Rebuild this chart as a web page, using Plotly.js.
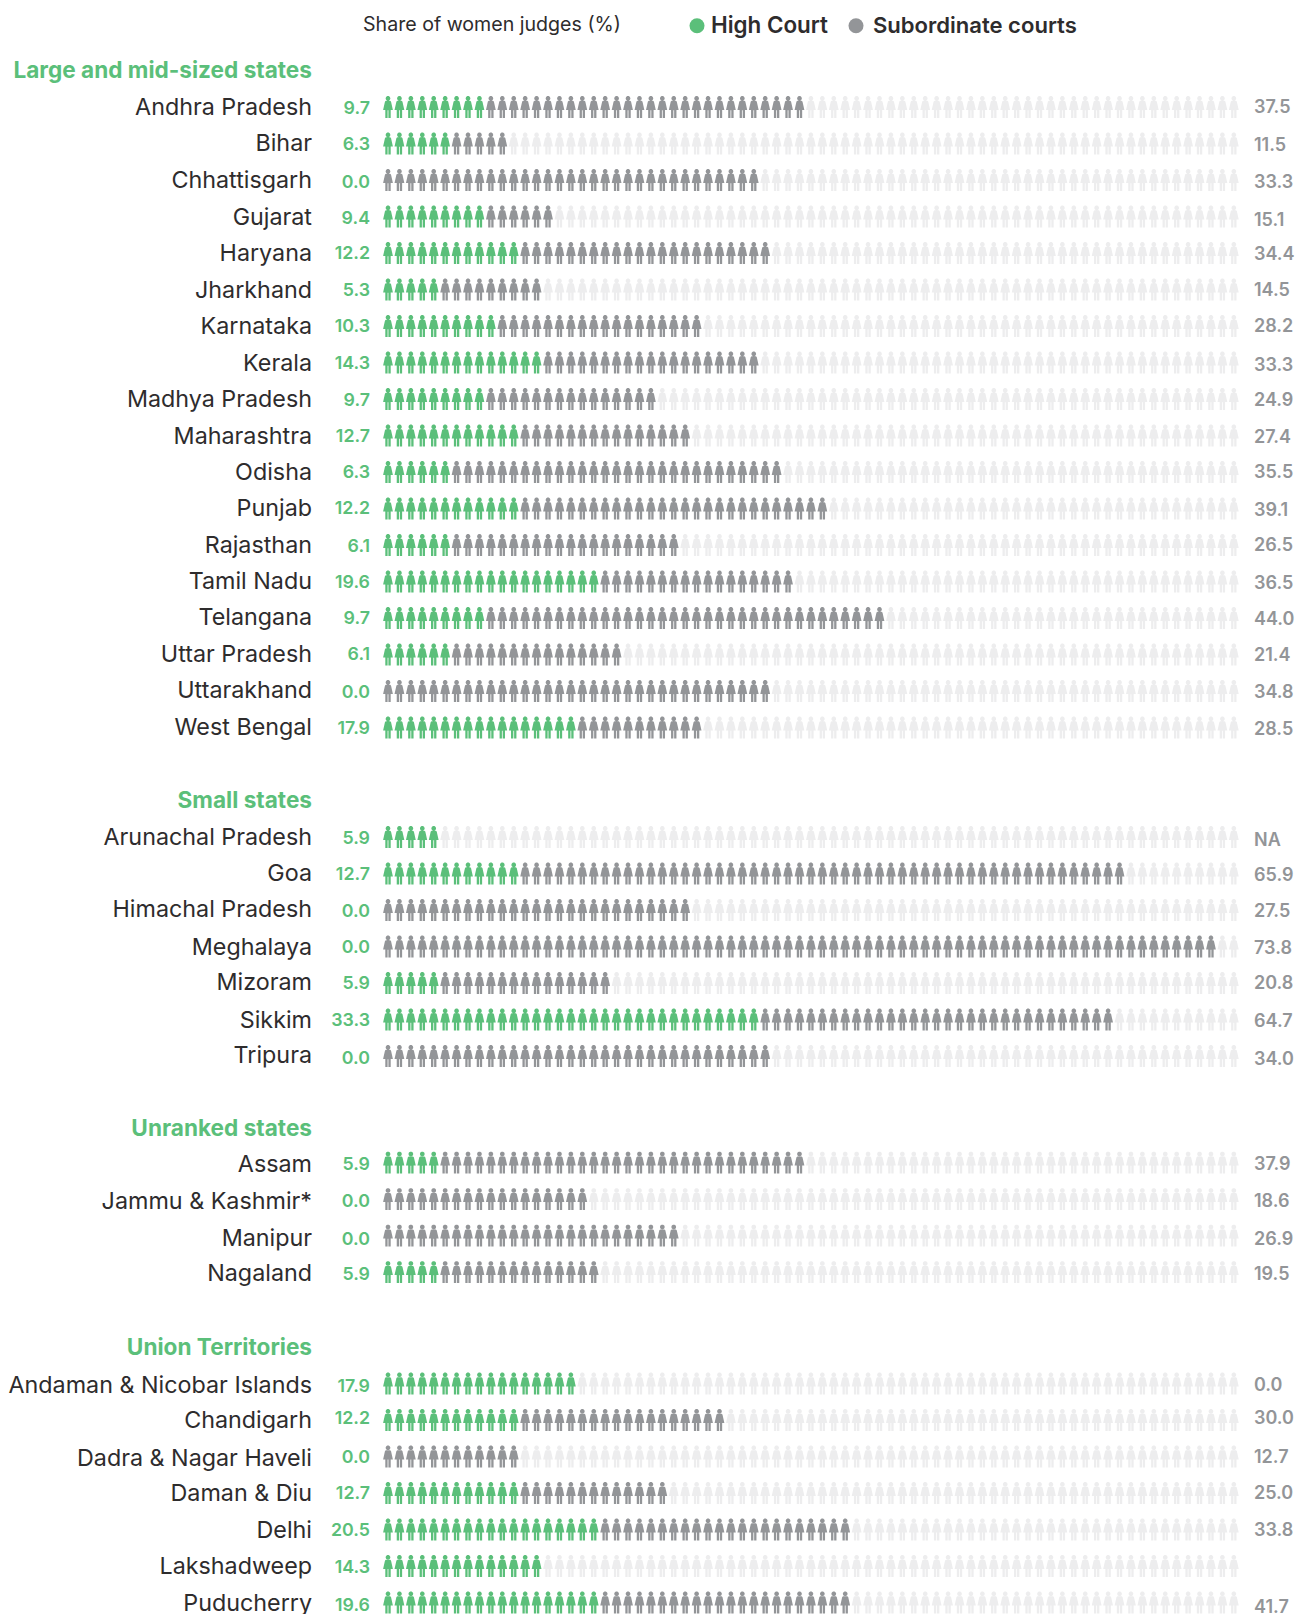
<!DOCTYPE html>
<html><head><meta charset="utf-8">
<script src="https://cdn.plot.ly/plotly-3.0.1.min.js"></script>
<style>html,body{margin:0;padding:0;background:#fff;overflow:hidden}</style>
</head><body><div id="chart" style="width:1298px;height:1614px"></div>
<script>
const groupNames = ["Large and mid-sized states","Small states","Unranked states","Union Territories"];
const groupSizes = [18,7,4,7];
const states = ["Andhra Pradesh","Bihar","Chhattisgarh","Gujarat","Haryana","Jharkhand","Karnataka","Kerala","Madhya Pradesh","Maharashtra","Odisha","Punjab","Rajasthan","Tamil Nadu","Telangana","Uttar Pradesh","Uttarakhand","West Bengal",
"Arunachal Pradesh","Goa","Himachal Pradesh","Meghalaya","Mizoram","Sikkim","Tripura",
"Assam","Jammu & Kashmir*","Manipur","Nagaland",
"Andaman & Nicobar Islands","Chandigarh","Dadra & Nagar Haveli","Daman & Diu","Delhi","Lakshadweep","Puducherry"];
const highCourt = ["9.7","6.3","0.0","9.4","12.2","5.3","10.3","14.3","9.7","12.7","6.3","12.2","6.1","19.6","9.7","6.1","0.0","17.9",
"5.9","12.7","0.0","0.0","5.9","33.3","0.0",
"5.9","0.0","0.0","5.9",
"17.9","12.2","0.0","12.7","20.5","14.3","19.6"];
const subordinate = ["37.5","11.5","33.3","15.1","34.4","14.5","28.2","33.3","24.9","27.4","35.5","39.1","26.5","36.5","44.0","21.4","34.8","28.5",
"NA","65.9","27.5","73.8","20.8","64.7","34.0",
"37.9","18.6","26.9","19.5",
"0.0","30.0","12.7","25.0","33.8","","41.7"];
const greenIcons = [9,6,0,9,12,5,10,14,9,12,6,12,6,19,9,6,0,17, 5,12,0,0,5,33,0, 5,0,0,5, 17,12,0,12,19,14,19];
const grayEnd    = [37,11,33,15,34,14,28,33,24,27,35,39,26,36,44,21,34,28, 5,65,27,73,20,64,34, 37,18,26,19, 17,30,12,25,41,14,41];
const totalIcons = 75;

// layout constants
const PITCH = 11.43, RH = 36.5, X0 = 388, Y0 = 107, W = 1298, H = 1614;
const groupStart = [0,20,28.92,34.97];
const headerNudge = [2,2,5,3];
const stateNudge = [4,3.5,4,4,4,4,4,4,4,4,4,3,4,3,3,3,3,3, 4,3,3,4,3,4,3, 5.5,6,6,5, 5,4,5,4,4,4,4];
const hcNudge = [4,4,5,5,3.5,4,3.5,4,4.5,4,3.5,3,4,3.5,3.5,3,4,4, 4,4,4,4,3,4,5, 4,5,6,5, 5.5,1,4,3,4,4,6];
const subNudge = [3,4,5,6,4,3,3,5,4,4,3,4,3,4,4,3,4,4, 6,4,4,4,3,4,6, 4,5,6,5, 5,1,4,3,4,0,7];
const GREEN = "#5BBF7A", GRAY = "#939598", LIGHT = "#EDEDEE", DARK = "#2E2C2D";
const FONT = "Inter, 'Open Sans', sans-serif";

const slots = []; const headers = [];
groupSizes.forEach((n,g)=>{ headers.push(groupStart[g]-1.0); for(let i=0;i<n;i++) slots.push(groupStart[g]+i); });

// person glyph outline, in px about its centre
const body = [[-2.1,-6.2],[2.1,-6.2],[3,-5.4],[4.9,3],[2.7,3],[2.7,11],[.4,11],[.4,3.2],[-.4,3.2],[-.4,11],[-2.7,11],[-2.7,3],[-4.9,3],[-3,-5.4]];
const head = []; for(let a=0;a<10;a++){ head.push([2.4*Math.cos(a*Math.PI/5), -8.6+2.4*Math.sin(a*Math.PI/5)]); }
function addPerson(t,i,s){
  [body,head].forEach(poly=>{
    poly.forEach(p=>{ t.x.push(i+p[0]/PITCH); t.y.push(s+p[1]/RH); });
    t.x.push(i+poly[0][0]/PITCH); t.y.push(s+poly[0][1]/RH);
    t.x.push(null); t.y.push(null);
  });
}
function fillTrace(c,name){ return {type:"scatter",mode:"lines",name,x:[],y:[],fill:"toself",fillcolor:c,line:{width:0,color:c,simplify:false},hoverinfo:"skip",showlegend:false}; }
const tG = fillTrace(GREEN,"High Court"), tS = fillTrace(GRAY,"Subordinate courts"), tL = fillTrace(LIGHT,"Rest");
slots.forEach((s,r)=>{
  for(let i=0;i<totalIcons;i++){
    addPerson(i<greenIcons[r]?tG:(i<grayEnd[r]?tS:tL), i, s);
  }
});
const px = v => (v-X0)/PITCH, py = v => (v-Y0)/RH;
const nudged = (arr) => slots.map((s,r)=> s - 0.03 + (arr[r]*1.03-0.5)/RH);
function textTrace(xs,ys,texts,pos,color,size,weight){
  return {type:"scatter",mode:"text",x:xs,y:ys,text:texts,textposition:pos,cliponaxis:false,hoverinfo:"skip",showlegend:false,
    textfont:{family:FONT,color,size,weight}};
}
const traces = [tL,tS,tG,
  textTrace(states.map(()=>px(312)),nudged(stateNudge),states,"middle left",DARK,23.3,400),
  textTrace(highCourt.map(()=>px(370)),nudged(hcNudge),highCourt,"middle left",GREEN,17.8,600),
  textTrace(subordinate.map(()=>px(1254)),nudged(subNudge),subordinate,"middle right",GRAY,18,600),
  textTrace(groupNames.map(()=>px(312)),headers.map((s,g)=>s+(headerNudge[g]*1.03-0.5)/RH),groupNames,"middle left",GREEN,22.6,700),
  textTrace([px(363)],[py(26)],["Share of women judges (%)"],"middle right",DARK,19.6,400),
  textTrace([px(711)],[py(27.5)],["High Court"],"middle right",DARK,22.4,600),
  textTrace([px(873)],[py(27.5)],["Subordinate courts"],"middle right",DARK,22.05,600),
  {type:"scatter",mode:"markers",x:[px(697),px(856)],y:[py(25.7),py(25.7)],marker:{size:15,color:[GREEN,GRAY]},hoverinfo:"skip",showlegend:false}
];
const layout = {width:W,height:H,margin:{l:0,r:0,t:0,b:0},paper_bgcolor:"#fff",plot_bgcolor:"#fff",showlegend:false,
  xaxis:{visible:false,range:[px(0),px(W)],fixedrange:true},
  yaxis:{visible:false,range:[py(H),py(0)],fixedrange:true}};
Plotly.newPlot("chart",traces,layout,{staticPlot:true,displayModeBar:false});
</script></body></html>
